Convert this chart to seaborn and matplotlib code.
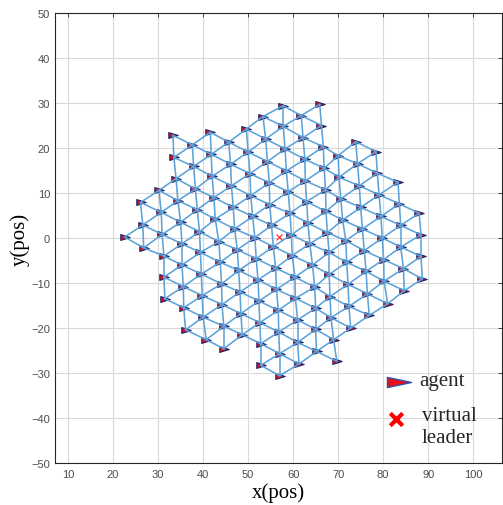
import numpy as np
import pandas as pd
import matplotlib
matplotlib.use("Agg")
import matplotlib.pyplot as plt
from matplotlib.path import Path
from matplotlib.markers import MarkerStyle
import seaborn as sns

# Final agent positions of the formation (x, y in pos units)
agent_x = [
    22.6,
    26.1, 26.6, 26.8,
    30.2, 30.7, 30.9, 31.3, 31.3, 31.5,
    33.3, 33.5, 34.0, 34.4, 35.0, 35.3, 35.3, 35.6, 35.7, 36.1,
    37.6, 37.9, 38.3, 38.7, 39.2, 39.4, 39.6, 39.8, 40.0, 40.7,
    41.6, 41.8, 42.0, 42.4, 42.7, 43.5, 43.8, 44.1, 44.2, 44.6, 44.6,
    45.7, 46.1, 46.3, 46.7, 47.0, 47.6, 47.9, 48.2, 48.4, 48.7,
    49.6, 50.0, 50.4, 50.6, 51.0, 51.5, 51.8, 52.2, 52.4, 52.6, 52.8, 52.8,
    53.3, 53.9, 54.3, 54.7, 54.8, 55.2, 55.6, 56.1, 56.3, 56.7, 56.8, 57.0, 57.0,
    57.8, 57.8, 58.2, 58.5, 58.9, 59.3, 59.6, 59.8, 60.4, 60.5, 61.0, 61.0, 61.3,
    61.8, 62.2, 62.6, 62.7, 63.0, 63.3, 63.7, 64.3, 64.8, 65.0, 65.0, 65.2,
    65.9, 66.3, 66.7, 66.9, 67.2, 67.3, 67.6, 68.0, 68.0, 68.2, 68.4, 69.0, 69.7,
    70.0, 70.2, 70.6, 71.0, 71.7, 71.9, 72.2, 72.4, 72.8,
    73.9, 74.3, 74.7, 75.0, 75.4, 75.8, 76.2, 76.5, 76.9,
    78.4, 78.7, 79.1, 79.5, 79.8, 80.1, 80.2, 81.0,
    83.3, 83.6, 83.9, 83.9, 84.5, 84.7,
    88.0, 88.4, 88.4, 88.7,
]
agent_y = [
    0.2,
    7.9, 2.9, -2.2,
    10.6, 5.7, 0.8, -4.0, -8.7, -13.5,
    22.8, 17.9, 13.2, 8.3, 3.5, -1.3, -6.0, -10.8, -15.5, -20.4,
    20.7, 15.9, 10.9, 6.3, 1.4, -3.2, -8.0, -12.8, -17.6, -22.6,
    23.5, 18.6, 13.7, 9.0, 4.2, -0.8, -5.4, -10.2, -14.8, -19.6, -24.6,
    21.3, 16.4, 11.6, 6.8, 2.0, -2.6, -7.2, -12.0, -16.8, -21.5,
    24.2, 19.1, 14.3, 9.4, 4.8, 0.1, -4.6, -9.3, -14.0, -18.8, -23.5, -28.3,
    27.0, 22.0, 17.0, 12.3, 7.4, 2.8, -1.9, -6.7, -11.4, -16.1, -20.9, -25.7, -30.6,
    29.4, 24.8, 19.8, 14.9, 10.3, 5.5, 0.7, -3.9, -8.7, -13.4, -18.2, -23.2, -28.0,
    27.2, 22.3, 17.5, 12.7, 8.1, 3.3, -1.3, -6.0, -10.9, -15.6, -20.3, -25.2,
    29.7, 25.0, 20.3, 15.5, 10.7, 5.9, 1.2, -3.2, -8.1, -13.0, -17.7, -22.6, -27.4,
    18.3, 13.5, 8.7, 4.0, -0.6, -5.4, -10.3, -15.2, -20.0,
    21.4, 16.5, 11.6, 6.8, 2.0, -2.8, -7.4, -12.4, -17.2,
    19.2, 14.4, 9.6, 4.8, 0.0, -4.8, -9.6, -14.6,
    12.4, 7.6, 2.8, -2.0, -6.8, -11.7,
    5.5, 0.7, -4.1, -9.1,
]
leader_x = [56.8]
leader_y = [0.3]

# neighbours closer than this are linked
comm_range = 6.2

x_ticks = [10, 20, 30, 40, 50, 60, 70, 80, 90, 100]
y_ticks = [-50, -40, -30, -20, -10, 0, 10, 20, 30, 40, 50]
x_limits = (7.1, 106.4)
y_limits = (-50, 50)

legend_labels = ["agent", "virtual\nleader"]

# ---------------------------------------------------------------- style
sns.set_theme(style="whitegrid", rc={
    "grid.color": "#d9d9d9",
    "grid.linewidth": 0.8,
    "axes.edgecolor": "#262626",
    "axes.linewidth": 0.8,
    "xtick.direction": "in",
    "ytick.direction": "in",
    "xtick.major.size": 3,
    "ytick.major.size": 3,
    "xtick.major.width": 0.6,
    "ytick.major.width": 0.6,
    "xtick.color": "#262626",
    "ytick.color": "#262626",
    "xtick.labelcolor": "#4d4d4d",
    "ytick.labelcolor": "#4d4d4d",
})
plt.rcParams["font.family"] = ["Liberation Sans", "DejaVu Sans"]

fig = plt.figure(figsize=(5.03, 5.06), dpi=100)
ax = fig.add_axes([55 / 503, 42 / 506, 447 / 503, 450 / 506])

# ---------------------------------------------------------------- data
agents = pd.DataFrame({"x": agent_x, "y": agent_y})
pts = agents[["x", "y"]].to_numpy()
dist = np.hypot(pts[:, None, 0] - pts[None, :, 0], pts[:, None, 1] - pts[None, :, 1])
ii, jj = np.where(np.triu(dist < comm_range, k=1))
edges = pd.DataFrame({
    "edge": np.repeat(np.arange(len(ii)), 2),
    "x": np.column_stack([pts[ii, 0], pts[jj, 0]]).ravel(),
    "y": np.column_stack([pts[ii, 1], pts[jj, 1]]).ravel(),
})

# arrow-head shaped agent glyph pointing along +x
agent_path = Path([(-1.0, -0.62), (1.0, 0.0), (-1.0, 0.62), (-1.0, -0.62)],
                  [Path.MOVETO, Path.LINETO, Path.LINETO, Path.CLOSEPOLY])
legend_path = Path([(-1.0, -0.42), (1.0, 0.0), (-1.0, 0.42), (-1.0, -0.42)],
                   [Path.MOVETO, Path.LINETO, Path.LINETO, Path.CLOSEPOLY])

sns.scatterplot(data=agents, x="x", y="y", marker=MarkerStyle(agent_path),
                s=46, color="#d0151d", edgecolor="#1c2470", linewidth=0.8,
                ax=ax, zorder=2, legend=False)

sns.lineplot(data=edges, x="x", y="y", units="edge", estimator=None, sort=False,
             color="#5ba3dc", linewidth=1.15, ax=ax, zorder=3, legend=False)

sns.scatterplot(x=leader_x, y=leader_y, marker="x", s=18, color="#ff2020",
                linewidth=0.8, ax=ax, zorder=4, legend=False)

# ---------------------------------------------------------------- axes
ax.set_xlim(*x_limits)
ax.set_ylim(*y_limits)
ax.set_xticks(x_ticks)
ax.set_yticks(y_ticks)
ax.tick_params(axis="both", labelsize=8, top=True, right=True,
               labeltop=False, labelright=False)
ax.tick_params(axis="x", pad=4.5)
ax.tick_params(axis="y", pad=3.5)
for side in ["left", "right", "top", "bottom"]:
    ax.spines[side].set_visible(True)
    ax.spines[side].set_color("#262626")

serif = ["Liberation Serif", "DejaVu Serif"]
ax.set_xlabel("x(pos)", fontsize=15, family=serif, color="black", labelpad=2)
ax.set_ylabel("y(pos)", fontsize=15, family=serif, color="black", labelpad=1)

# ---------------------------------------------------------------- key
ax.scatter([0.769], [0.181], transform=ax.transAxes, marker=MarkerStyle(legend_path),
           s=300, color="#e8101a", edgecolor="#3050a8", linewidth=1.0, zorder=6,
           clip_on=False)
ax.scatter([0.763], [0.098], transform=ax.transAxes, marker="x", s=80,
           color="#ff0000", linewidth=3.0, zorder=6, clip_on=False)
ax.text(0.815, 0.184, legend_labels[0], transform=ax.transAxes, fontsize=15,
        family=serif, va="center", ha="left", zorder=6)
ax.text(0.82, 0.081, legend_labels[1], transform=ax.transAxes, fontsize=15,
        family=serif, va="center", ha="left", linespacing=1.15, zorder=6)

fig.savefig("out.png", dpi=100)
